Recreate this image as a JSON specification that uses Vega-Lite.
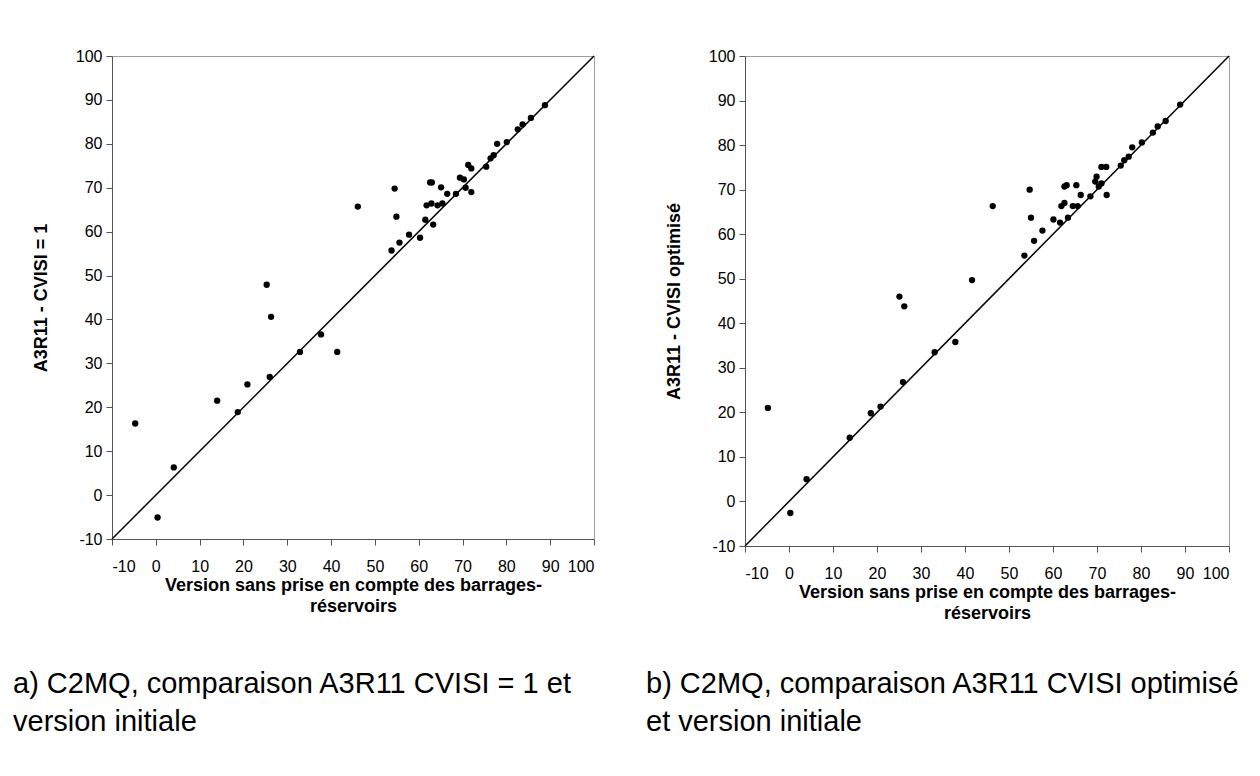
{
  "$schema": "https://vega.github.io/schema/vega-lite/v6.json",
  "background": "white",
  "padding": {"left": 12, "top": 47, "right": 0, "bottom": 0},
  "bounds": "flush",
  "spacing": 151,
  "config": {
    "font": "Liberation Sans",
    "view": {"stroke": "#a0a0a0", "strokeWidth": 1},
    "axis": {
      "grid": false,
      "labelFont": "Liberation Sans",
      "labelFontSize": 16,
      "labelColor": "black",
      "labelExpr": "'' + datum.value",
      "domainColor": "#555555",
      "tickColor": "#555555",
      "tickSize": 6,
      "titleFont": "Liberation Sans",
      "titleFontWeight": "bold",
      "titleFontSize": 18,
      "titleColor": "black"
    },
    "axisX": {"labelPadding": 13, "titlePadding": 2, "titleLineHeight": 21},
    "axisY": {"labelPadding": 4, "titlePadding": 25},
    "title": {
      "orient": "bottom",
      "anchor": "start",
      "frame": "group",
      "font": "Liberation Sans",
      "fontSize": 29,
      "fontWeight": "normal",
      "lineHeight": 38,
      "color": "black",
      "dx": -99
    }
  },
  "datasets": {
    "diag": [{"v": -10}, {"v": 100}],
    "a": [
      {"x": -4.7, "y": 16.3}, {"x": 0.4, "y": -5.1}, {"x": 4.1, "y": 6.3}, {"x": 14.0, "y": 21.5},
      {"x": 18.7, "y": 18.9}, {"x": 20.9, "y": 25.2}, {"x": 26.0, "y": 26.9}, {"x": 25.3, "y": 47.9},
      {"x": 26.3, "y": 40.6}, {"x": 32.9, "y": 32.6}, {"x": 37.7, "y": 36.6}, {"x": 41.4, "y": 32.6},
      {"x": 46.1, "y": 65.7}, {"x": 53.8, "y": 55.7}, {"x": 54.5, "y": 69.8}, {"x": 54.9, "y": 63.4},
      {"x": 55.6, "y": 57.5}, {"x": 57.8, "y": 59.3}, {"x": 60.3, "y": 58.6}, {"x": 61.5, "y": 62.7},
      {"x": 61.8, "y": 66.0}, {"x": 62.6, "y": 71.2}, {"x": 63.0, "y": 71.2}, {"x": 62.9, "y": 66.4},
      {"x": 63.3, "y": 61.6}, {"x": 64.3, "y": 66.0}, {"x": 65.4, "y": 66.4}, {"x": 65.1, "y": 70.1},
      {"x": 66.5, "y": 68.6}, {"x": 68.5, "y": 68.6}, {"x": 69.4, "y": 72.3}, {"x": 70.3, "y": 71.9},
      {"x": 70.7, "y": 70.0}, {"x": 72.0, "y": 69.0}, {"x": 71.3, "y": 75.2}, {"x": 72.0, "y": 74.4},
      {"x": 75.4, "y": 74.8}, {"x": 76.4, "y": 76.7}, {"x": 77.1, "y": 77.4}, {"x": 77.9, "y": 80.0},
      {"x": 80.1, "y": 80.4}, {"x": 82.6, "y": 83.3}, {"x": 83.7, "y": 84.4}, {"x": 85.6, "y": 85.9},
      {"x": 88.8, "y": 88.8}
    ],
    "b": [
      {"x": -4.8, "y": 21.0}, {"x": 0.3, "y": -2.6}, {"x": 4.0, "y": 5.0}, {"x": 13.8, "y": 14.3},
      {"x": 18.6, "y": 19.8}, {"x": 20.8, "y": 21.3}, {"x": 25.9, "y": 26.8}, {"x": 25.1, "y": 46.0},
      {"x": 26.2, "y": 43.8}, {"x": 33.1, "y": 33.5}, {"x": 37.8, "y": 35.8}, {"x": 41.6, "y": 49.7},
      {"x": 46.3, "y": 66.3}, {"x": 53.5, "y": 55.2}, {"x": 54.7, "y": 70.0}, {"x": 55.0, "y": 63.7},
      {"x": 55.7, "y": 58.5}, {"x": 57.6, "y": 60.8}, {"x": 60.1, "y": 63.3}, {"x": 61.6, "y": 62.6},
      {"x": 61.9, "y": 66.3}, {"x": 62.6, "y": 67.0}, {"x": 62.6, "y": 70.7}, {"x": 63.1, "y": 71.0},
      {"x": 63.4, "y": 63.7}, {"x": 64.5, "y": 66.3}, {"x": 65.6, "y": 66.3}, {"x": 65.3, "y": 71.0},
      {"x": 66.3, "y": 68.8}, {"x": 68.5, "y": 68.5}, {"x": 69.6, "y": 71.8}, {"x": 69.9, "y": 72.9},
      {"x": 70.4, "y": 70.7}, {"x": 71.0, "y": 71.4}, {"x": 72.2, "y": 68.8}, {"x": 71.0, "y": 75.1},
      {"x": 72.1, "y": 75.1}, {"x": 75.4, "y": 75.4}, {"x": 76.2, "y": 76.6}, {"x": 77.2, "y": 77.4},
      {"x": 78.0, "y": 79.5}, {"x": 80.2, "y": 80.6}, {"x": 82.7, "y": 82.8}, {"x": 83.8, "y": 84.2},
      {"x": 85.6, "y": 85.4}, {"x": 88.9, "y": 89.1}
    ]
  },
  "hconcat": [
    {
      "width": 482,
      "height": 483,
      "title": {"text": ["a) C2MQ, comparaison A3R11 CVISI = 1 et", "version initiale"], "offset": 55},
      "layer": [
        {
          "data": {"name": "diag"},
          "mark": {"type": "line", "color": "black", "strokeWidth": 1.5},
          "encoding": {
            "x": {"field": "v", "type": "quantitative",
                  "scale": {"domain": [-10, 100], "nice": false, "zero": false},
                  "axis": {"values": [-10, 0, 10, 20, 30, 40, 50, 60, 70, 80, 90, 100],
                           "title": ["Version sans prise en compte des barrages-", "réservoirs"]}},
            "y": {"field": "v", "type": "quantitative",
                  "scale": {"domain": [-10, 100], "nice": false, "zero": false},
                  "axis": {"values": [-10, 0, 10, 20, 30, 40, 50, 60, 70, 80, 90, 100],
                           "title": "A3R11 - CVISI = 1"}}
          }
        },
        {
          "data": {"name": "a"},
          "mark": {"type": "circle", "color": "black", "opacity": 1, "size": 40},
          "encoding": {
            "x": {"field": "x", "type": "quantitative"},
            "y": {"field": "y", "type": "quantitative"}
          }
        }
      ]
    },
    {
      "width": 484,
      "height": 490,
      "title": {"text": ["b) C2MQ, comparaison A3R11 CVISI optimisé", "et version initiale"], "offset": 48},
      "layer": [
        {
          "data": {"name": "diag"},
          "mark": {"type": "line", "color": "black", "strokeWidth": 1.5},
          "encoding": {
            "x": {"field": "v", "type": "quantitative",
                  "scale": {"domain": [-10, 100], "nice": false, "zero": false},
                  "axis": {"values": [-10, 0, 10, 20, 30, 40, 50, 60, 70, 80, 90, 100],
                           "title": ["Version sans prise en compte des barrages-", "réservoirs"]}},
            "y": {"field": "v", "type": "quantitative",
                  "scale": {"domain": [-10, 100], "nice": false, "zero": false},
                  "axis": {"values": [-10, 0, 10, 20, 30, 40, 50, 60, 70, 80, 90, 100],
                           "title": "A3R11 - CVISI optimisé"}}
          }
        },
        {
          "data": {"name": "b"},
          "mark": {"type": "circle", "color": "black", "opacity": 1, "size": 40},
          "encoding": {
            "x": {"field": "x", "type": "quantitative"},
            "y": {"field": "y", "type": "quantitative"}
          }
        }
      ]
    }
  ]
}
